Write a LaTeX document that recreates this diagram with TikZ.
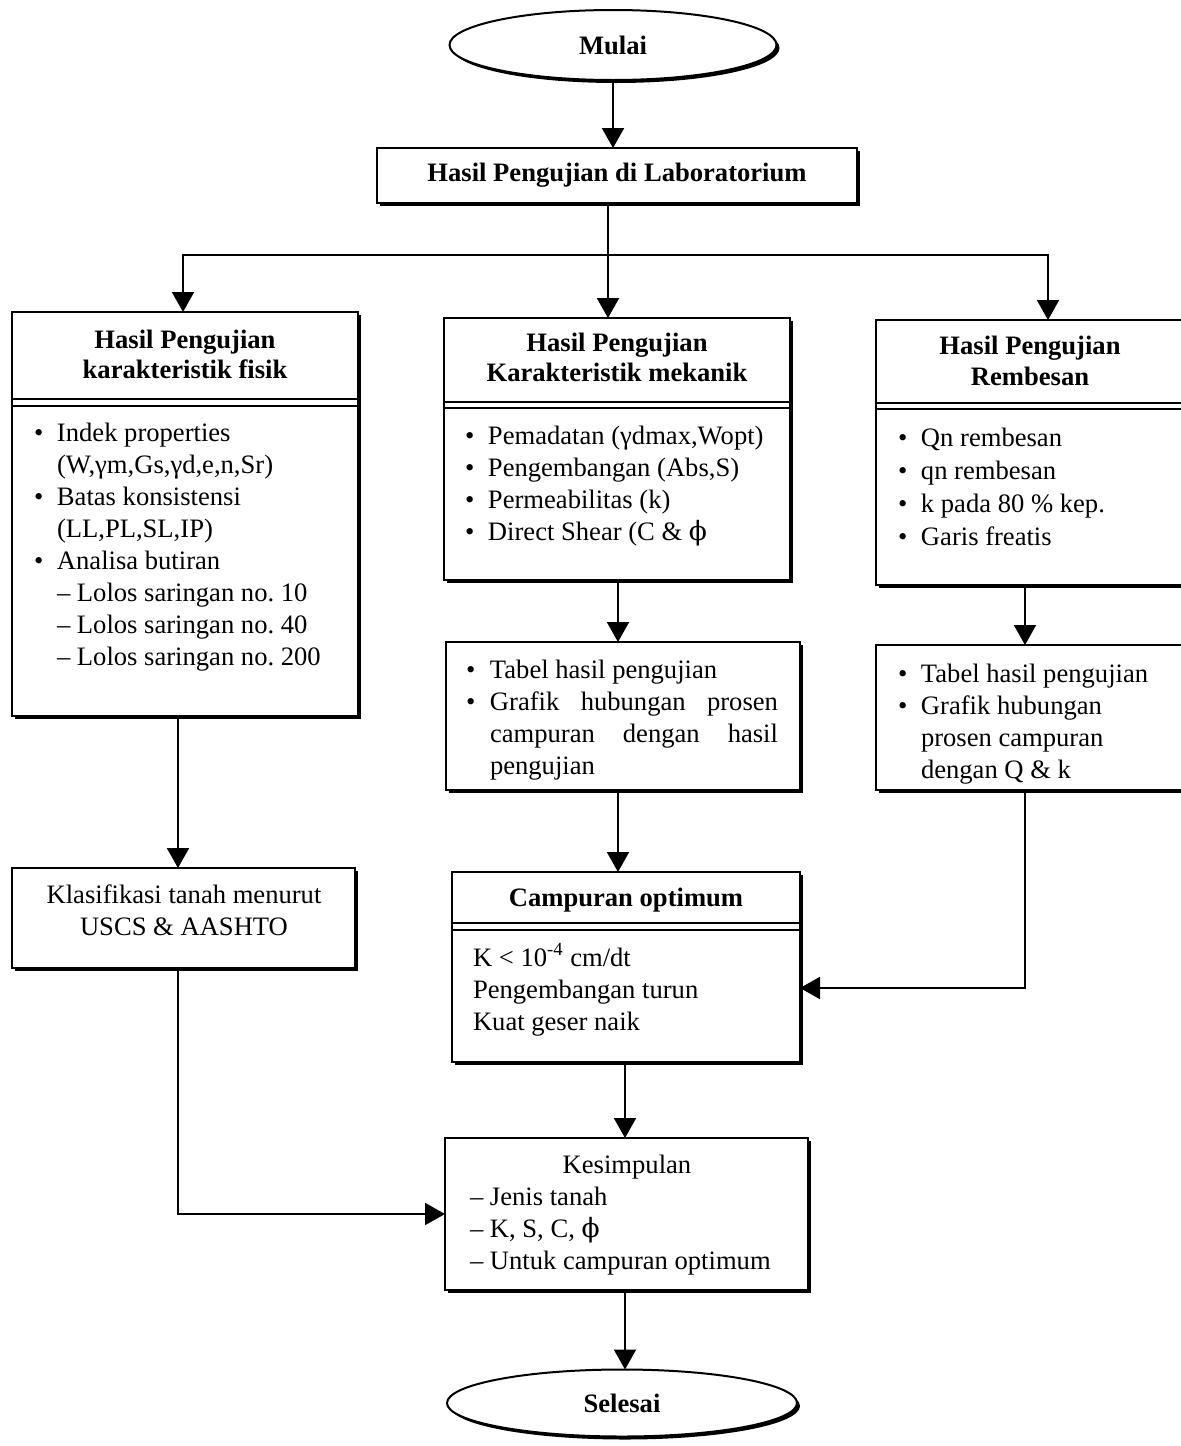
\documentclass[tikz,border=0pt]{standalone}
\usepackage{fontspec}
\setmainfont{Liberation Serif}
\newfontfamily\symfont{DejaVu Serif}
\newcommand{\uphi}{{\symfont ϕ}}
\usetikzlibrary{arrows.meta,shapes.geometric,shadows}
\begin{document}
\frenchspacing
\begin{tikzpicture}[x=0.5pt,y=-0.5pt,
  font=\fontsize{13.3}{16}\selectfont\frenchspacing,
  box/.style={draw, line width=1pt, fill=white, inner sep=0pt, outer sep=0pt,
    drop shadow={shadow xshift=1.5pt, shadow yshift=-1.5pt, opacity=1, fill=black}},
  oval/.style={box, ellipse, font=\fontsize{13.3}{16}\selectfont\bfseries},
  arr/.style={line width=1pt, -{Triangle[length=10pt,width=11pt]}},
  ln/.style={line width=1pt},
  dvA/.style={line width=1pt},
  dvB/.style={line width=0.6pt},
  txt/.style={inner sep=0pt, outer sep=0pt},
  ttl/.style={txt, anchor=base, font=\fontsize{13.3}{15}\selectfont\bfseries},
  lst/.style={txt, anchor=base west},
  ctr/.style={txt, anchor=base}
]
\useasboundingbox (0,0) rectangle (1181,1446);

% ---------- shapes ----------
\node[oval, minimum width=163.5pt, minimum height=35pt] (mulai) at (613,45) {Mulai};
\node[box, minimum width=240pt, minimum height=27.5pt, font=\fontsize{13.3}{16}\selectfont\bfseries] (T) at (617,175.5) {Hasil Pengujian di Laboratorium};
\node[box, minimum width=173pt, minimum height=202pt] (L1) at (185,514) {};
\node[box, minimum width=173pt, minimum height=131pt] (M1) at (617,449) {};
\node[box, minimum width=154pt, minimum height=132.5pt] (R1) at (1030,452.5) {};
\node[box, minimum width=177pt, minimum height=74pt] (M2) at (623,716) {};
\node[box, minimum width=154pt, minimum height=72.5pt] (R2) at (1030,717.5) {};
\node[box, minimum width=171.5pt, minimum height=50pt] (L2) at (183.5,918) {};
\node[box, minimum width=174pt, minimum height=95pt] (M3) at (626,967) {};
\node[box, minimum width=181.5pt, minimum height=76pt] (K) at (626.5,1214) {};
\node[oval, minimum width=175pt, minimum height=33.5pt] (selesai) at (622,1403) {Selesai};

% ---------- dividers ----------
\draw[dvA] (L1.west |- 0,399) -- (L1.east |- 0,399);
\draw[dvB] (L1.west |- 0,406) -- (L1.east |- 0,406);
\draw[dvA] (M1.west |- 0,402) -- (M1.east |- 0,402);
\draw[dvB] (M1.west |- 0,408) -- (M1.east |- 0,408);
\draw[dvA] (R1.west |- 0,403) -- (R1.east |- 0,403);
\draw[dvB] (R1.west |- 0,409) -- (R1.east |- 0,409);
\draw[dvA] (M3.west |- 0,923) -- (M3.east |- 0,923);
\draw[dvB] (M3.west |- 0,930) -- (M3.east |- 0,930);

% ---------- texts ----------
\node[ttl] (tL1) at (185,348) {\begin{tabular}[t]{@{}c@{}}Hasil Pengujian\\karakteristik fisik\end{tabular}};
\node[ttl] (tM1) at (617,351) {\begin{tabular}[t]{@{}c@{}}Hasil Pengujian\\Karakteristik mekanik\end{tabular}};
\node[ttl, font=\fontsize{13.3}{15.5}\selectfont\bfseries] (tR1) at (1030,354) {\begin{tabular}[t]{@{}c@{}}Hasil Pengujian\\Rembesan\end{tabular}};

\node[lst] (bL1) at (34,441) {\begin{tabular}[t]{@{}p{11.5pt}@{}l@{}}
• & Indek properties\\
  & (W,γm,Gs,γd,e,n,Sr)\\
• & Batas konsistensi\\
  & (LL,PL,SL,IP)\\
• & Analisa butiran\\
  & – Lolos saringan no. 10\\
  & – Lolos saringan no. 40\\
  & – Lolos saringan no. 200
\end{tabular}};

\node[lst] (bM1) at (465,444) {\begin{tabular}[t]{@{}p{11.5pt}@{}l@{}}
• & Pemadatan (γdmax,Wopt)\\
• & Pengembangan (Abs,S)\\
• & Permeabilitas (k)\\
• & Direct Shear (C \& \uphi
\end{tabular}};

\node[lst, font=\fontsize{13.3}{16.5}\selectfont] (bR1) at (898,446) {\begin{tabular}[t]{@{}p{11.5pt}@{}l@{}}
• & Qn rembesan\\
• & qn rembesan\\
• & k pada 80 \% kep.\\
• & Garis freatis
\end{tabular}};

\node[lst] (bM2) at (466,678) {\begin{tabular}[t]{@{}p{12pt}@{}l@{}}
• & Tabel hasil pengujian\\
• & \makebox[144pt][s]{Grafik hubungan prosen}\\
  & \makebox[144pt][s]{campuran dengan hasil}\\
  & pengujian
\end{tabular}};

\node[lst] (bR2) at (898,682) {\begin{tabular}[t]{@{}p{11.5pt}@{}l@{}}
• & Tabel hasil pengujian\\
• & Grafik hubungan\\
  & prosen campuran\\
  & dengan Q \& k
\end{tabular}};

\node[ctr] (tL2) at (184,903) {\begin{tabular}[t]{@{}c@{}}Klasifikasi tanah menurut\\USCS \& AASHTO\end{tabular}};

\node[ttl] (tM3) at (626,906) {Campuran optimum};
\node[lst] (bM3) at (473,966) {\begin{tabular}[t]{@{}l@{}}
K < 10\textsuperscript{-4} cm/dt\\
Pengembangan turun\\
Kuat geser naik
\end{tabular}};

\node[ctr] (tK) at (627,1173) {Kesimpulan};
\node[lst] (bK) at (470,1205) {\begin{tabular}[t]{@{}l@{}}
– Jenis tanah\\
– K, S, C, \uphi\\
– Untuk campuran optimum
\end{tabular}};

% ---------- connectors ----------
\coordinate (J) at (608,255);
\coordinate (xL) at (183,0);
\coordinate (xR) at (1048,0);
\coordinate (xl) at (178,0);
\coordinate (xm) at (618,0);
\coordinate (xr) at (1025,0);
\coordinate (xk) at (625,0);
\coordinate (yc) at (0,988);

\draw[arr] (mulai.south) -- (mulai.south |- T.north);
\draw[ln] (J |- T.south) -- (J);
\draw[arr] (J) -| (xL |- L1.north);
\draw[arr] (J) -| (xR |- R1.north);
\draw[arr] (J) -- (J |- M1.north);
\draw[arr] (xm |- M1.south) -- (xm |- M2.north);
\draw[arr] (xr |- R1.south) -- (xr |- R2.north);
\draw[arr] (xl |- L1.south) -- (xl |- L2.north);
\draw[arr] (xm |- M2.south) -- (xm |- M3.north);
\draw[arr] (xr |- R2.south) |- (M3.east |- yc);
\draw[arr] (xk |- M3.south) -- (xk |- K.north);
\draw[arr] (xl |- L2.south) |- (K.west);
\draw[arr] (xk |- K.south) -- (xk |- selesai.north);
\end{tikzpicture}
\end{document}
